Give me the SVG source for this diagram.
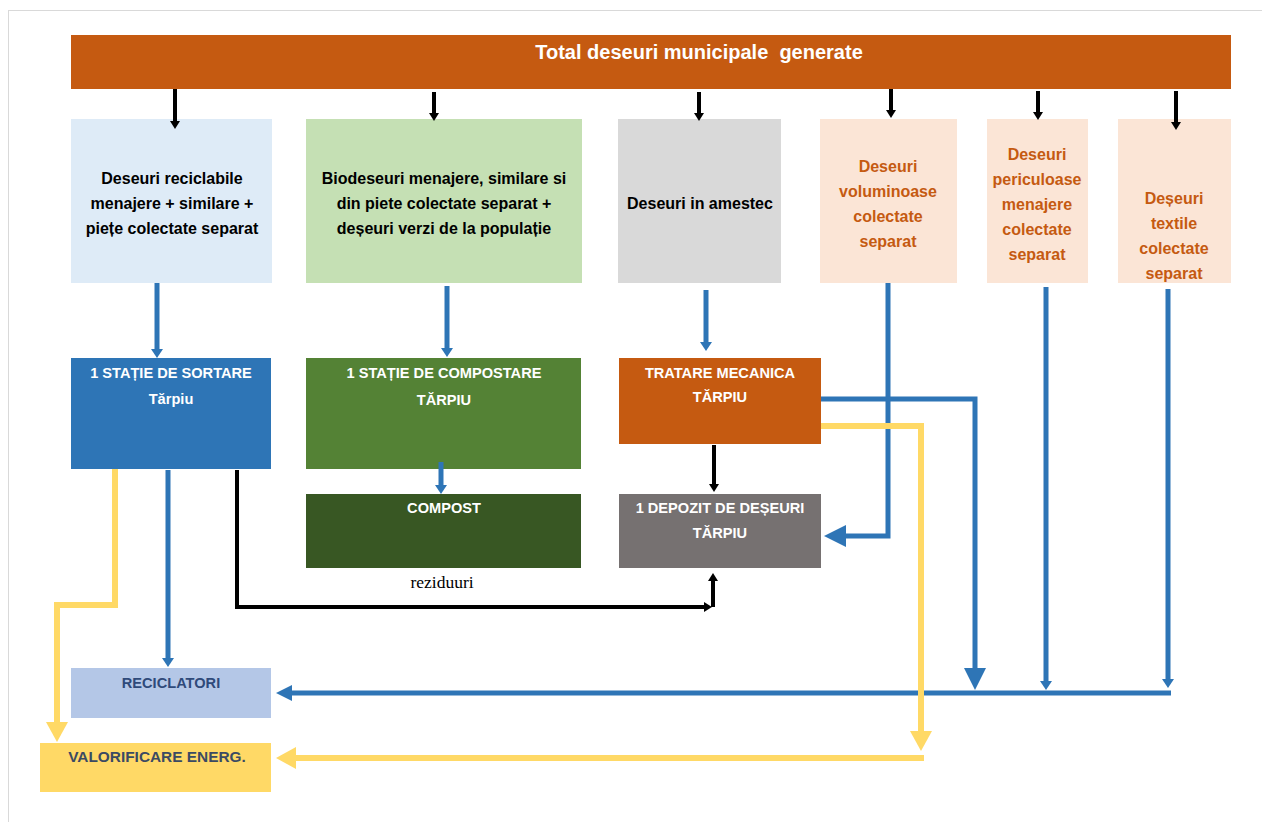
<svg xmlns="http://www.w3.org/2000/svg" width="1262" height="822" viewBox="0 0 1262 822">
<style>
text{font-family:"Liberation Sans",Arial,sans-serif;font-weight:bold;text-anchor:middle;}
.t{font-size:16px;}
.w{font-size:14.6px;}
.dk{fill:#000;}
.or{fill:#C55A11;}
.wh{fill:#fff;}
.kb{stroke:#000;fill:none;stroke-width:4;}
.bl{stroke:#2E75B6;fill:none;stroke-width:5;}
.ye{stroke:#FFD966;fill:none;stroke-width:6;}
</style>
<defs>
<marker id="mK" markerUnits="userSpaceOnUse" markerWidth="9" markerHeight="10" refX="1" refY="5" orient="auto"><path d="M0,0 L8,5 L0,10 z" fill="#000"/></marker>
<marker id="mB" markerUnits="userSpaceOnUse" markerWidth="10" markerHeight="12" refX="1" refY="6" orient="auto"><path d="M0,0 L9,6 L0,12 z" fill="#2E75B6"/></marker>
<marker id="mBM" markerUnits="userSpaceOnUse" markerWidth="17" markerHeight="16" refX="1" refY="8" orient="auto"><path d="M0,0 L16,8 L0,16 z" fill="#2E75B6"/></marker>
<marker id="mBL" markerUnits="userSpaceOnUse" markerWidth="23" markerHeight="22" refX="1" refY="11" orient="auto"><path d="M0,0 L22,11 L0,22 z" fill="#2E75B6"/></marker>
<marker id="mY" markerUnits="userSpaceOnUse" markerWidth="21" markerHeight="22" refX="1" refY="11" orient="auto"><path d="M0,0 L20,11 L0,22 z" fill="#FFD966"/></marker>
</defs>
<rect x="0" y="0" width="1262" height="822" fill="#fff"/>
<rect x="8.5" y="10.5" width="1300" height="900" fill="none" stroke="#D9D9D9" stroke-width="1"/>

<g id="title"><rect x="71" y="35" width="1160" height="54" fill="#C55A11"/><text x="699" y="59" font-size="20" class="wh" style="white-space:pre">Total deseuri municipale  generate</text></g>

<g id="reciclabile"><rect x="71" y="119" width="201" height="164" fill="#DEEBF7"/>
<text class="t dk" x="172" y="184">Deseuri reciclabile</text><text class="t dk" x="172" y="209">menajere + similare +</text><text class="t dk" x="172" y="234">piețe colectate separat</text></g>

<g id="biodeseuri"><rect x="306" y="119" width="276" height="164" fill="#C5E0B4"/>
<text class="t dk" x="444" y="184">Biodeseuri menajere, similare si</text><text class="t dk" x="444" y="209">din piete colectate separat +</text><text class="t dk" x="444" y="234">deșeuri verzi de la populație</text></g>

<g id="amestec"><rect x="618" y="119" width="163" height="164" fill="#D9D9D9"/>
<text class="t dk" x="700" y="209">Deseuri in amestec</text></g>

<g id="voluminoase"><rect x="820" y="119" width="137" height="164" fill="#FBE5D6"/>
<text class="t or" x="888" y="172">Deseuri</text><text class="t or" x="888" y="197">voluminoase</text><text class="t or" x="888" y="222">colectate</text><text class="t or" x="888" y="247">separat</text></g>

<g id="periculoase"><rect x="987" y="119" width="101" height="164" fill="#FBE5D6"/>
<text class="t or" x="1037" y="160">Deseuri</text><text class="t or" x="1037" y="185">periculoase</text><text class="t or" x="1037" y="210">menajere</text><text class="t or" x="1037" y="235">colectate</text><text class="t or" x="1037" y="260">separat</text></g>

<g id="textile"><rect x="1118" y="119" width="113" height="164" fill="#FBE5D6"/>
<text class="t or" x="1174" y="204">Deșeuri</text><text class="t or" x="1174" y="229">textile</text><text class="t or" x="1174" y="254">colectate</text><text class="t or" x="1174" y="279">separat</text></g>

<g id="sortare"><rect x="71" y="358" width="200" height="111" fill="#2E75B6"/>
<text class="w wh" x="171" y="378">1 STAȚIE DE SORTARE</text><text class="w wh" x="171" y="404">Tărpiu</text></g>

<g id="compostare"><rect x="306" y="358" width="275" height="111" fill="#548235"/>
<text class="w wh" x="444" y="378">1 STAȚIE DE COMPOSTARE</text><text class="w wh" x="444" y="405">TĂRPIU</text></g>

<g id="compost"><rect x="306" y="494" width="275" height="74" fill="#385723"/>
<text class="w wh" x="444" y="513">COMPOST</text></g>

<g id="tratare"><rect x="619" y="358" width="202" height="86" fill="#C55A11"/>
<text class="w wh" x="720" y="378">TRATARE MECANICA</text><text class="w wh" x="720" y="402">TĂRPIU</text></g>

<g id="depozit"><rect x="619" y="494" width="202" height="74" fill="#767171"/>
<text class="w wh" x="720" y="513">1 DEPOZIT DE DEȘEURI</text><text class="w wh" x="720" y="538">TĂRPIU</text></g>

<g id="reciclatori"><rect x="71" y="668" width="200" height="50" fill="#B4C7E7"/>
<text class="w" fill="#2F4A7A" x="171" y="688">RECICLATORI</text></g>

<g id="valorificare"><rect x="40" y="743" width="231" height="49" fill="#FFD966"/>
<text fill="#3B4A63" x="157" y="762" style="font-size:15.4px">VALORIFICARE ENERG.</text></g>

<text id="reziduuri" x="442" y="588" style="font-family:'Liberation Serif',serif;font-weight:normal;font-size:17.5px" fill="#000">reziduuri</text>

<g id="connectors">
<line class="kb" x1="175" y1="89" x2="175" y2="122" marker-end="url(#mK)"/>
<line class="kb" x1="434" y1="92" x2="434" y2="114" marker-end="url(#mK)"/>
<line class="kb" x1="699" y1="92" x2="699" y2="114" marker-end="url(#mK)"/>
<line class="kb" x1="891" y1="89" x2="891" y2="111" marker-end="url(#mK)"/>
<line class="kb" x1="1038" y1="91" x2="1038" y2="113" marker-end="url(#mK)"/>
<line class="kb" x1="1176" y1="91" x2="1176" y2="123" marker-end="url(#mK)"/>

<line class="bl" x1="157" y1="283" x2="157" y2="350" marker-end="url(#mB)"/>
<line class="bl" x1="447" y1="286" x2="447" y2="349" stroke-width="6" marker-end="url(#mB)"/>
<line class="bl" x1="706" y1="290" x2="706" y2="343" marker-end="url(#mB)"/>
<line class="bl" x1="441" y1="462" x2="441" y2="486" marker-end="url(#mB)"/>
<line class="bl" x1="168" y1="470" x2="168" y2="659" stroke-width="6" marker-end="url(#mB)"/>
<path class="bl" d="M888,283 V536 H845" stroke-width="7" marker-end="url(#mBL)"/>
<path class="bl" d="M821,399 H975 V669" stroke-width="7" marker-end="url(#mBL)"/>
<line class="bl" x1="1046" y1="287" x2="1046" y2="682" marker-end="url(#mB)"/>
<line class="bl" x1="1168" y1="289" x2="1168" y2="680" marker-end="url(#mB)"/>
<line class="bl" x1="1171" y1="693" x2="291" y2="693" stroke-width="7" marker-end="url(#mBM)"/>

<path class="ye" d="M115,469 V605 H57 V723" marker-end="url(#mY)"/>
<path class="ye" d="M821,426 H921 V732" marker-end="url(#mY)"/>
<line class="ye" x1="924" y1="758" x2="295" y2="758" stroke-width="7" marker-end="url(#mY)"/>

<path class="kb" d="M237,470 V607 H705" stroke-width="5" marker-end="url(#mK)"/>
<line class="kb" x1="713" y1="607" x2="713" y2="580" stroke-width="2.5" marker-end="url(#mK)"/>
<line class="kb" x1="714" y1="445" x2="714" y2="485" marker-end="url(#mK)"/>
</g>
</svg>
